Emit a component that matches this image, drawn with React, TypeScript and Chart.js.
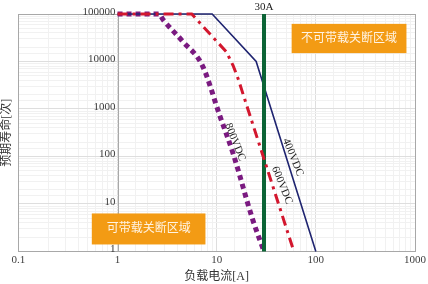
import { useEffect, useRef } from "react";
import { Chart, registerables } from "chart.js";

Chart.register(...registerables);

// Axis ticks (log scales)
const xTickValues = [0.1, 1, 10, 100, 1000];
const xTickLabels = ["0.1", "1", "10", "100", "1000"];
const yTickValues = [1, 10, 100, 1000, 10000, 100000];
const yTickLabels = ["1", "10", "100", "1000", "10000", "100000"];

// Expected life vs. load current for each rated voltage
const seriesNames = ["400VDC", "600VDC", "800VDC"];
const current400 = [1, 9, 25, 100];
const life400 = [100000, 100000, 10000, 1];
const current600 = [1, 5.6, 12.5, 14.6, 16.4, 60];
const life600 = [100000, 100000, 16000, 8300, 4400, 1];
const current800 = [1, 2.6, 2.9, 4.6, 7.15, 10.8, 14.6, 23.2, 30];
const life800 = [100000, 100000, 74000, 25700, 8300, 700, 117, 4.5, 1];

// 30 A breaking limit
const limitCurrent = 30;
const limitLabel = "30A";
const zoneLabels = ["不可带载关断区域", "可带载关断区域"];

const SERIF = "'Liberation Serif', 'DejaVu Serif', 'Noto Sans CJK SC', serif";
const CJK = "'Liberation Serif', 'Noto Sans CJK SC', sans-serif";

const toPoints = (xs: number[], ys: number[]) => xs.map((x, i) => ({ x, y: ys[i] }));
const isDecade = (v: number) => Math.abs(Math.log10(v) - Math.round(Math.log10(v))) < 1e-6;

const overlay = {
  id: "overlay",
  beforeDatasetsDraw(chart: any) {
    const { ctx, chartArea: a, scales } = chart;
    const x = scales.x;
    ctx.save();
    // vertical axis running through 1 A
    const x1 = Math.round(x.getPixelForValue(1)) + 0.5;
    ctx.strokeStyle = "#a8a8a8";
    ctx.lineWidth = 1;
    ctx.beginPath();
    ctx.moveTo(x1, a.top);
    ctx.lineTo(x1, a.bottom);
    ctx.stroke();
    // frame
    ctx.strokeRect(Math.round(a.left) + 0.5, Math.round(a.top) + 0.5, Math.round(a.right - a.left), Math.round(a.bottom - a.top));
    ctx.restore();
  },
  afterDatasetsDraw(chart: any) {
    const { ctx, chartArea: a, scales } = chart;
    const x = scales.x;
    const y = scales.y;
    ctx.save();
    // limit caption above the frame
    ctx.fillStyle = "#222";
    ctx.font = `11px ${SERIF}`;
    ctx.textAlign = "center";
    ctx.textBaseline = "middle";
    ctx.fillText(limitLabel, x.getPixelForValue(limitCurrent), a.top - 7);

    // zone boxes
    const box = (x0: number, y0: number, x1: number, y1: number, text: string) => {
      const l = x.getPixelForValue(x0);
      const r = x.getPixelForValue(x1);
      const t = y.getPixelForValue(y0);
      const b = y.getPixelForValue(y1);
      ctx.fillStyle = "#f39b14";
      ctx.fillRect(l, t, r - l, b - t);
      ctx.fillStyle = "#fff4e4";
      ctx.font = `12px ${CJK}`;
      ctx.textAlign = "center";
      ctx.textBaseline = "middle";
      ctx.fillText(text, (l + r) / 2, (t + b) / 2);
    };
    box(57, 62000, 820, 15000, zoneLabels[0]);
    box(0.55, 6.3, 7.7, 1.4, zoneLabels[1]);

    // y tick labels beside the 1 A axis
    const xAxis = Math.round(x.getPixelForValue(1)) + 0.5;
    ctx.fillStyle = "#404040";
    ctx.font = `11px ${SERIF}`;
    ctx.textAlign = "right";
    ctx.textBaseline = "middle";
    yTickValues.forEach((v, i) => {
      ctx.fillText(yTickLabels[i], xAxis - 3, y.getPixelForValue(v) - 2);
    });

    // series captions along the curves
    const tag = (text: string, vx: number, vy: number) => {
      ctx.save();
      ctx.translate(x.getPixelForValue(vx), y.getPixelForValue(vy));
      ctx.rotate((68 * Math.PI) / 180);
      ctx.fillStyle = "#222";
      ctx.font = `11px ${SERIF}`;
      ctx.textAlign = "center";
      ctx.textBaseline = "middle";
      ctx.fillText(text, 0, 0);
      ctx.restore();
    };
    tag(seriesNames[0], 58.7, 96);
    tag(seriesNames[1], 45.5, 24.7);
    tag(seriesNames[2], 15.3, 200);
    ctx.restore();
  },
};

export default function App() {
  const ref = useRef<HTMLCanvasElement>(null);

  useEffect(() => {
    document.body.style.margin = "0";
    const canvas = ref.current;
    if (!canvas) return;
    const chart = new Chart(canvas, {
      type: "line",
      data: {
        datasets: [
          {
            label: "30A",
            data: toPoints([limitCurrent, limitCurrent], [1, 100000]),
            borderColor: "#0c6436",
            borderWidth: 4,
            pointRadius: 0,
            order: 1,
          },
          {
            label: seriesNames[0],
            data: toPoints(current400, life400),
            borderColor: "#1f2470",
            borderWidth: 1.6,
            pointRadius: 0,
            order: 2,
          },
          {
            label: seriesNames[1],
            data: toPoints(current600, life600),
            borderColor: "#d3172e",
            borderWidth: 3,
            borderDash: [10, 5, 3, 5],
            pointRadius: 0,
            order: 0,
          },
          {
            label: seriesNames[2],
            data: toPoints(current800, life800),
            borderColor: "#7a1a80",
            borderWidth: 5,
            borderDash: [5, 4],
            cubicInterpolationMode: "monotone",
            pointRadius: 0,
            order: 3,
          },
        ] as any,
      },
      options: {
        animation: false,
        responsive: true,
        maintainAspectRatio: false,
        layout: { padding: { top: 14, right: 12, bottom: 0, left: 0 } },
        plugins: { legend: { display: false }, tooltip: { enabled: false } },
        elements: { line: { tension: 0 } },
        datasets: { line: { clip: 4 } } as any,
        scales: {
          x: {
            type: "logarithmic",
            min: 0.1,
            max: 1000,
            border: { display: false },
            grid: {
              drawTicks: false,
              color: (c: any) => (isDecade(c.tick.value) ? "#dedede" : "#f1f1f1"),
            },
            ticks: {
              autoSkip: false,
              maxRotation: 0,
              padding: 2,
              color: "#404040",
              font: { family: SERIF, size: 11 },
              callback: (v: any) => {
                const i = xTickValues.findIndex((t) => Math.abs(t - Number(v)) < 1e-9);
                return i >= 0 ? xTickLabels[i] : "";
              },
            },
            title: {
              display: true,
              text: "负载电流[A]",
              color: "#333",
              font: { family: CJK, size: 12 },
              padding: { top: 1, bottom: 0 },
            },
          },
          y: {
            type: "logarithmic",
            min: 1,
            max: 100000,
            border: { display: false },
            grid: {
              drawTicks: false,
              color: (c: any) => (isDecade(c.tick.value) ? "#dedede" : "#f1f1f1"),
            },
            ticks: { display: false, autoSkip: false },
            title: {
              display: true,
              text: "预期寿命[次]",
              color: "#333",
              font: { family: CJK, size: 12 },
              padding: { top: 0, bottom: 4 },
            },
          },
        },
      },
      plugins: [overlay],
    });
    return () => chart.destroy();
  }, []);

  return (
    <div style={{ width: 428, height: 284, position: "relative" }}>
      <canvas ref={ref} />
    </div>
  );
}
